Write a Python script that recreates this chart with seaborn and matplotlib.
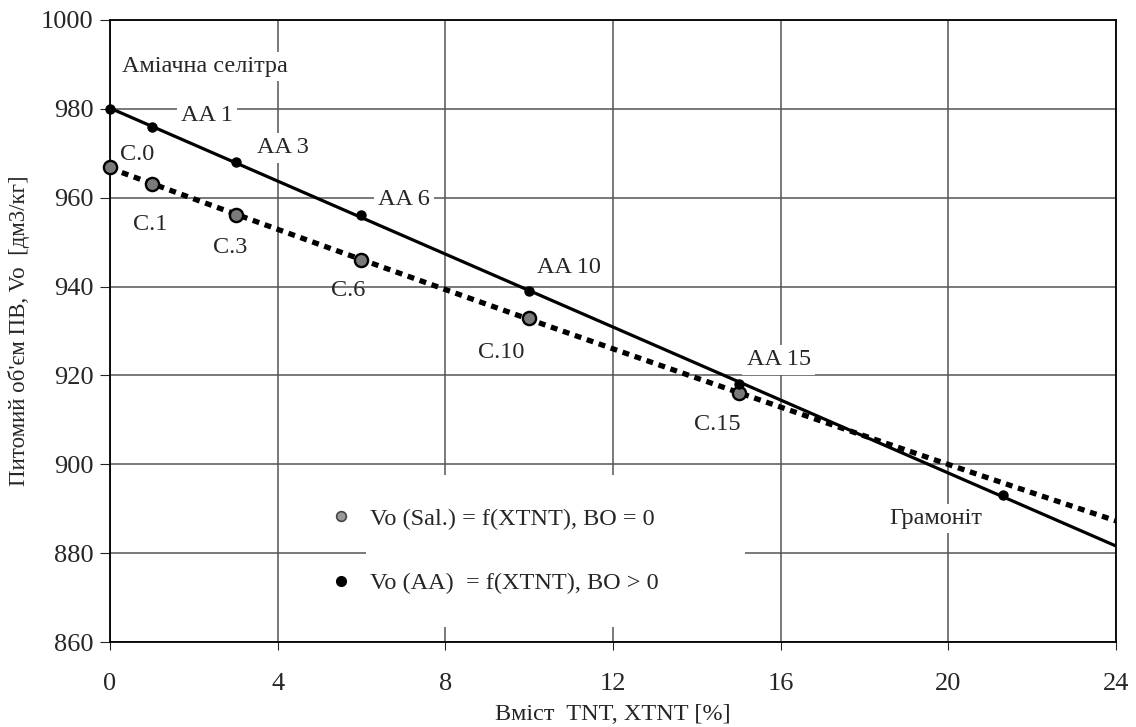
import numpy as np
import pandas as pd
import matplotlib
matplotlib.use("Agg")
import matplotlib.pyplot as plt
import seaborn as sns
from matplotlib.lines import Line2D
from matplotlib.patches import Rectangle

# data
sal_x = [0, 1, 3, 6, 10, 15]
sal_v = [967, 963, 956, 946, 933, 916]
sal_names = ["C.0", "C.1", "C.3", "C.6", "C.10", "C.15"]

aa_x = [0, 1, 3, 6, 10, 15, 21.3]
aa_v = [980, 976, 968, 956, 939, 918, 893]
aa_names = ["Аміачна селітра", "AA 1", "AA 3", "AA 6", "AA 10", "AA 15", "Грамоніт"]

# label anchor points (data units)
sal_lab_x = [0.64, 0.95, 2.86, 5.69, 9.33, 14.48]
sal_lab_y = [969.8, 953.9, 948.9, 939.2, 925.1, 908.9]
aa_lab_x = [2.26, 2.31, 4.12, 7.02, 10.95, 15.95, 19.7]
aa_lab_y = [989.6, 978.6, 971.2, 959.5, 944.2, 923.5, 887.8]

sal = pd.DataFrame({"x": sal_x, "v": sal_v})
aa = pd.DataFrame({"x": aa_x, "v": aa_v})

sns.set_style("white")
plt.rcParams["font.family"] = ["Liberation Serif", "DejaVu Serif"]

fig = plt.figure(figsize=(11.36, 7.27), dpi=100)
ax = fig.add_axes([0.0968, 0.1169, 0.8856, 0.8556])
ax.set_xlim(0, 24)
ax.set_ylim(860, 1000)
ax.set_xticks(range(0, 25, 4))
ax.set_yticks(range(860, 1001, 20))
ax.grid(True, color="#555555", linewidth=1.1)
ax.set_axisbelow(True)

# white box behind legend (cuts the grid like in the original)
ax.add_patch(Rectangle((0.2545, 0.024), 0.377, 0.245, transform=ax.transAxes,
                       facecolor="white", edgecolor="none", zorder=1.5))

# trend lines
sns.regplot(data=aa, x="x", y="v", order=1, ci=None, scatter=False, truncate=False,
            ax=ax, line_kws=dict(color="black", lw=2.3, zorder=3))
sns.regplot(data=sal, x="x", y="v", order=2, ci=None, scatter=False, truncate=False,
            ax=ax, line_kws=dict(color="black", lw=3.8, linestyle=(0, (1.3, 1.1)),
                                 dash_capstyle="butt", zorder=3))

ax.plot(sal["x"], sal["v"], ls="none", marker="o", ms=9.5, mfc="#7a7a7a", mec="black",
        mew=1.7, zorder=4, clip_on=False)
ax.plot(aa["x"], aa["v"], ls="none", marker="o", ms=6.5, mfc="black", mec="black",
        zorder=4, clip_on=False)

box = dict(facecolor="white", edgecolor="none", pad=3)
for t, x, y in zip(aa_names, aa_lab_x, aa_lab_y):
    ax.text(x, y, t, ha="center", va="center", fontsize=17.5, bbox=box, zorder=2)
for t, x, y in zip(sal_names, sal_lab_x, sal_lab_y):
    ax.text(x, y, t, ha="center", va="center", fontsize=17.5, zorder=2)

ax.set_xlabel("Вміст  TNT, XTNT [%]", fontsize=17.5, labelpad=7)
ax.set_ylabel("Питомий об'єм ПВ, Vo  [дм3/кг]", fontsize=16.5, labelpad=8)
ax.tick_params(axis="x", labelsize=19, length=6, pad=16, direction="out", bottom=True)
ax.tick_params(axis="y", labelsize=19, length=7, pad=5, direction="out", left=True)
for s in ax.spines.values():
    s.set_color("black")
    s.set_linewidth(1.3)

handles = [
    Line2D([], [], ls="none", marker="o", ms=7, mfc="#999999", mec="#444444", mew=1.2),
    Line2D([], [], ls="none", marker="o", ms=7, mfc="black", mec="black"),
]
labels = ["Vo (Sal.) = f(XTNT), BO = 0", "Vo (AA)  = f(XTNT), BO > 0"]
ax.legend(handles, labels, loc="center left", bbox_to_anchor=(0.198, 0.146),
          frameon=False, fontsize=17.5, handlelength=0.8, handletextpad=0.8,
          labelspacing=1.75)

fig.savefig("out.png", dpi=100)
